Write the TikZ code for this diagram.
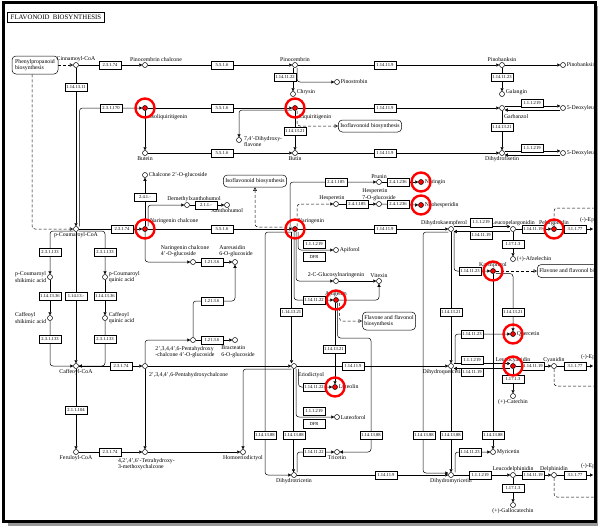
\documentclass[tikz,border=0pt]{standalone}
\usepackage{fontspec}
\setmainfont{Liberation Serif}
\usetikzlibrary{arrows.meta}
\pgfdeclarelayer{back}
\pgfdeclarelayer{bg}
\pgfsetlayers{back,bg,main}
\begin{document}
\begin{tikzpicture}[x=1pt,y=-1pt,
  cpd/.style={circle,draw,fill=white,inner sep=0pt,minimum size=5pt,line width=0.5pt},
  hit/.style={cpd,fill=red},
  enz/.style={draw,fill=white,inner sep=0pt,minimum width=22pt,minimum height=8.5pt,line width=0.5pt,font=\fontsize{4.6}{5}\selectfont},
  lbl/.style={font=\fontsize{5.8}{6.2}\selectfont,inner sep=0.8pt,align=center},
  lbll/.style={lbl,align=left},
  mapbox/.style={draw,fill=white,rounded corners=4pt,line width=0.5pt,font=\fontsize{5.8}{6.4}\selectfont,align=left,inner sep=2pt},
  ring/.style={circle,draw=red,line width=2.4pt,minimum size=19pt,inner sep=0pt},
  rxn/.style={line width=0.5pt,-{Triangle[length=3pt,width=3.2pt]}},
  rel/.style={line width=0.5pt,dash pattern=on 3pt off 2pt,-{Triangle[open,length=3.5pt,width=3.5pt]}},
  dsh/.style={line width=0.5pt,dash pattern=on 3pt off 2pt},
  rc/.style={rounded corners=3pt}]
\useasboundingbox (0,0) rectangle (600,528);
\begin{pgfonlayer}{back}
\fill[white] (0,0) rectangle (600,528);
\end{pgfonlayer}

% title
\node[draw,line width=1.2pt,fill=white,inner sep=3pt,font=\fontsize{6.8}{7}\selectfont] (title) at (56,17.5) {FLAVONOID\ \ BIOSYNTHESIS};

% map boxes
\node[mapbox,minimum width=46pt,minimum height=18pt] (ppb) at (35,65) {Phenylpropanoid\\biosynthesis};
\node[mapbox,minimum height=12pt] (iso1) at (370,126) {Isoflavonoid biosynthesis};
\node[mapbox,minimum height=12pt] (iso2) at (255,181) {Isoflavonoid biosynthesis};
\node[mapbox,minimum height=18pt] (ffb1) at (389,321) {Flavone and flavonol\\biosynthesis};
\node[mapbox,minimum height=13pt,anchor=west] (ffb2) at (537,271) {Flavone and flavonol biosynthesis};

% compounds
\node[cpd,label={[lbl]above:Cinnamoyl-CoA}] (cin) at (76,65) {};
\node[cpd,label={[lbl,xshift=11pt]above:Pinocembrin chalcone}] (pcc) at (145,65) {};
\node[cpd,label={[lbl]above:Pinocembrin}] (pino) at (295,65) {};
\node[cpd,label={[lbl]right:Pinostrobin}] (pinos) at (337,82) {};
\node[cpd,label={[lbl,yshift=2pt]right:Chrysin}] (chry) at (293,94) {};
\node[cpd,label={[lbl]above:Pinobanksin}] (pinob) at (502,65) {};
\node[cpd,label={[lbl]right:Pinobanksin 3-acetate}] (pinoa) at (563,65) {};
\node[cpd,label={[lbl,yshift=2pt]right:Galangin}] (gal) at (502,94) {};
\node[hit] (isol) at (145,108) {};
\node[lbl,anchor=west] (tisol) at (149,117) {Isoliquiritigenin};
\node[hit] (liq) at (295,108) {};
\node[lbl,anchor=west] (tliq) at (298,117) {Liquiritigenin};
\node[cpd] (garb) at (502,108) {};
\node[lbl,anchor=west] (tgarb) at (503,117) {Garbanzol};
\node[cpd,label={[lbl]right:5-Deoxyleucopelargonidin}] (dl1) at (563,108) {};
\node[cpd] (dhf74) at (239,140) {};
\node[lbll,anchor=north west] (tdhf74) at (243,135) {7,4'-Dihydroxy-\\flavone};
\node[cpd,label={[lbl]below:Butein}] (butein) at (145,153) {};
\node[cpd,label={[lbl]below:Butin}] (butin) at (295,153) {};
\node[cpd,label={[lbl]below:Dihydrofisetin}] (dhfis) at (502,153) {};
\node[cpd,label={[lbl]right:5-Deoxyleucofisetinidin}] (dl2) at (563,153) {};
\node[cpd,label={[lbl]right:Chalcone 2'-O-glucoside}] (c2g) at (145,175) {};
\node[cpd,label={[lbl,xshift=7pt]above:Demethylxanthohumol}] (dmx) at (187,205) {};
\node[cpd,label={[lbl]below:Xanthohumol}] (xan) at (227,205) {};
\node[hit] (ngc) at (145,229) {};
\node[lbl,anchor=west] (tngc) at (149,221) {Naringenin chalcone};
\node[cpd,label={[lbl]below:p-Coumaroyl-CoA}] (pcoa) at (76,229) {};
\node[cpd] (ngcg) at (193,262) {};
\node[lbll,anchor=south] (tngcg) at (185,258) {Naringenin chalcone\\4'-O-glucoside};
\node[cpd] (aur) at (235,262) {};
\node[lbll,anchor=south] (taur) at (236,258) {Aureusidin\\6-O-glucoside};
\node[cpd,label={[lbll]left:{p-Coumaroyl\\shikimic acid}}] (pcs) at (50,277) {};
\node[cpd,label={[lbll]right:{p-Coumaroyl\\quinic acid}}] (pcq) at (105,277) {};
\node[cpd,label={[lbll]left:{Caffeoyl\\shikimic acid}}] (cs) at (50,318) {};
\node[cpd,label={[lbll]right:{Caffeoyl\\quinic acid}}] (cq) at (105,318) {};
\node[cpd] (phg) at (193,340) {};
\node[lbll,anchor=north] (tphg) at (185,345) {2',3,4,4',6-Pentahydroxy\\-chalcone 4'-O-glucoside};
\node[cpd] (brac) at (235,340) {};
\node[lbll,anchor=north] (tbrac) at (238,345) {Bracteatin\\6-O-glucoside};
\node[cpd] (phc) at (145,366) {};
\node[lbl,anchor=west] (tphc) at (148,375) {2',3,4,4',6-Pentahydroxychalcone};
\node[cpd,label={[lbl]below:Caffeoyl-CoA}] (caf) at (76,366) {};
\node[cpd,label={[lbl]below:Feruloyl-CoA}] (fer) at (76,452) {};
\node[cpd] (thm) at (145,452) {};
\node[lbll,anchor=north west] (tthm) at (117,457) {4,2',4',6'-Tetrahydroxy-\\3-methoxychalcone};
\node[cpd,label={[lbl]below:Homoeriodictyol}] (hom) at (243,452) {};
\node[hit] (nar) at (295,229) {};
\node[lbl,anchor=west] (tnar) at (297,221) {Naringenin};
\node[cpd,label={[lbl]above:Prunin}] (prun) at (379,182) {};
\node[hit,label={[lbl]right:Naringin}] (narin) at (421,182) {};
\node[cpd,label={[lbl,xshift=-4pt]above:Hesperetin}] (hesp) at (336,204) {};
\node[cpd,label={[lbll]above:{Hesperetin\\7-O-glucoside}}] (h7g) at (379,204) {};
\node[hit,label={[lbl]right:Neohesperidin}] (neoh) at (421,205) {};
\node[cpd,label={[lbl]right:Apiforol}] (apif) at (336,250) {};
\node[cpd,label={[lbl]above:2-C-Glucosylnaringenin}] (cgn) at (336,281) {};
\node[cpd,label={[lbl]above:Vitexin}] (vit) at (379,281) {};
\node[hit,label={[lbl]above:Apigenin}] (apig) at (336,300) {};
\node[cpd] (erio) at (294,366) {};
\node[lbl,anchor=west] (terio) at (297,375) {Eriodictyol};
\node[hit,label={[lbl]right:Luteolin}] (lut) at (335,387) {};
\node[cpd,label={[lbl]right:Luteoforol}] (ltf) at (337,417) {};
\node[cpd,label={[lbl]below:Tricetin}] (tric) at (337,452) {};
\node[cpd,label={[lbl]below:Dihydrotricetin}] (dht) at (294,475) {};
\node[cpd,label={[lbl,xshift=-7pt]above:Dihydrokaempferol}] (dhk) at (451,229) {};
\node[cpd,label={[lbl]above:Leucopelargonidin}] (lpel) at (513,229) {};
\node[hit,label={[lbl]above:Pelargonidin}] (pel) at (554,229) {};
\node[cpd,label={[lbl]right:(+)-Afzelechin}] (afz) at (513,259) {};
\node[hit,label={[lbl]above:Kaempferol}] (kae) at (493,271) {};
\node[hit,label={[lbl]right:Quercetin}] (que) at (513,334) {};
\node[cpd,label={[lbl,xshift=-8pt]below:Dihydroquercetin}] (dhq) at (451,366) {};
\node[hit,label={[lbl]above:Leucocyanidin}] (lcy) at (513,366) {};
\node[cpd,label={[lbl]above:Cyanidin}] (cya) at (554,366) {};
\node[cpd,label={[lbl]below:(+)-Catechin}] (cat) at (513,396) {};
\node[cpd,label={[lbl]right:Myricetin}] (myr) at (493,452) {};
\node[cpd,label={[lbl]below:Dihydromyricetin}] (dhm) at (451,475) {};
\node[cpd,label={[lbl]above:Leucodelphinidin}] (ldel) at (513,475) {};
\node[cpd,label={[lbl]above:Delphinidin}] (del) at (554,475) {};
\node[cpd,label={[lbl]below:(+)-Gallocatechin}] (gcat) at (513,505) {};

\coordinate (eafz) at (593,229);
\node[lbl,anchor=west] (teafz) at (579,220) {(-)-Epiafzelechin};
\coordinate (ecat) at (593,366);
\node[lbl,anchor=west] (tecat) at (580,357) {(-)-Epicatechin};
\coordinate (egc) at (593,475);
\node[lbl,anchor=west] (tegc) at (580,466) {(-)-Epigallocatechin};
\coordinate (k1) at (371,338);
\coordinate (k2) at (265,475);
\coordinate (k3) at (600,208);
\coordinate (k4) at (423,473);
\coordinate (k5) at (600,386);
\coordinate (k6) at (600,497);

% enzymes
\node[enz] (ea1) at (110,65) {2.3.1.74};
\node[enz] (ea2) at (222,65) {5.5.1.6};
\node[enz] (ea3) at (385,65) {1.14.11.9};
\node[enz] (ea4) at (76,87) {1.14.13.11};
\node[enz] (ea5) at (285,77) {1.14.11.22};
\node[enz] (ea6) at (502,77) {1.14.11.23};
\node[enz] (eb1) at (111,108) {2.3.1.170};
\node[enz] (eb2) at (222,108) {5.5.1.6};
\node[enz] (eb3) at (385,108) {1.14.11.9};
\node[enz] (eb4) at (532,103) {1.1.1.219};
\node[enz] (eb5) at (295,131) {1.14.13.21};
\node[enz] (eb6) at (502,127) {1.14.13.21};
\node[enz] (ec1) at (222,153) {5.5.1.6};
\node[enz] (ec2) at (385,153) {1.14.11.9};
\node[enz] (ec3) at (532,148) {1.1.1.219};
\node[enz] (ed1) at (145,197) {2.4.1.-};
\node[enz] (ed2) at (206,205) {2.1.1.-};
\node[enz] (ed3) at (122,229) {2.3.1.74};
\node[enz] (ed4) at (222,229) {5.5.1.6};
\node[enz] (ed5) at (385,229) {1.14.11.9};
\node[enz] (e1213a) at (212,262) {1.21.3.6};
\node[enz] (e1213b) at (212,301) {1.21.3.6};
\node[enz] (e1213c) at (212,340) {1.21.3.6};
\node[enz] (ef1) at (50,252) {2.3.1.133};
\node[enz] (ef2) at (105,252) {2.3.1.133};
\node[enz] (ef3) at (50,296) {1.14.13.36};
\node[enz] (ef4) at (76,296) {1.14.13.-};
\node[enz] (ef5) at (105,296) {1.14.13.36};
\node[enz] (ef6) at (50,339) {2.3.1.133};
\node[enz] (ef7) at (105,339) {2.3.1.133};
\node[enz] (eg1) at (121,366) {2.3.1.74};
\node[enz] (eg2) at (76,410) {2.1.1.104};
\node[enz] (eg3) at (110,452) {2.3.1.74};
\node[enz] (eh1) at (336,182) {2.4.1.185};
\node[enz] (eh2) at (398,182) {2.4.1.236};
\node[enz] (eh3) at (357,204) {2.4.1.185};
\node[enz] (eh4) at (398,204) {2.4.1.236};
\node[enz] (ei1) at (314,244) {1.1.1.219};
\node[enz] (ei2) at (314,256.5) {DFR};
\node[enz] (ei3) at (314,300) {1.14.11.22};
\node[enz] (ei4) at (291.5,312) {1.14.13.21};
\node[enz] (ei5) at (334,349) {1.14.13.21};
\node[enz] (ei6) at (353,366) {1.14.11.9};
\node[enz] (ei7) at (314,387) {1.14.11.22};
\node[enz] (ei8) at (314,411) {1.1.1.219};
\node[enz] (ei9) at (314,423.5) {DFR};
\node[enz] (ei10) at (314,452) {1.14.11.22};
\node[enz] (ej1) at (265,435) {1.14.13.88};
\node[enz] (ej2) at (294,435) {1.14.13.88};
\node[enz] (ej3) at (371,435) {1.14.13.88};
\node[enz] (ej4) at (386,475) {1.14.11.9};
\node[enz] (ek1) at (481,222.5) {1.1.1.219};
\node[enz] (ek2) at (481,235) {1.14.11.19};
\node[enz] (ek3) at (533,229) {1.14.11.19};
\node[enz] (ek4) at (575,229) {3.1.1.77};
\node[enz] (ek5) at (513,244) {1.17.1.3};
\node[enz] (ek6) at (470,271) {1.14.11.23};
\node[enz] (ek7) at (451,312) {1.14.13.21};
\node[enz] (ek8) at (513,312) {1.14.13.21};
\node[enz] (ek9) at (472,334) {1.14.11.23};
\node[enz] (el1) at (472,360) {1.1.1.219};
\node[enz] (el2) at (472,372) {1.14.11.19};
\node[enz] (el3) at (533,366) {1.14.11.19};
\node[enz] (el4) at (575,366) {3.1.1.77};
\node[enz] (el5) at (513,379) {1.17.1.3};
\node[enz] (em1) at (424,435) {1.14.13.88};
\node[enz] (em2) at (451,435) {1.14.13.88};
\node[enz] (em3) at (493,435) {1.14.13.88};
\node[enz] (em4) at (470,452) {1.14.11.23};
\node[enz] (em5) at (480,475) {1.1.1.219};
\node[enz] (em6) at (533,475) {1.14.11.19};
\node[enz] (em7) at (575,475) {3.1.1.77};
\node[enz] (em8) at (513,488) {1.17.1.3};

\begin{pgfonlayer}{bg}
\draw[rel] (ppb) -- (cin);
\draw[rxn] (cin) -- (pcc);
\draw[rxn] (pcc) -- (pino);
\draw[rxn] (pino) -- (pinob);
\draw[rxn] (pinob) -- (pinoa);
\draw[rxn,rc] ([xshift=2pt]pino.south) |- (pinos);
\draw[rxn] ([xshift=-2pt]pino.south) -- (chry);
\draw[rxn] (pinob) -- (gal);
\draw[rxn] (cin) -- (pcoa);
\draw[rxn,rc] ([xshift=3.5pt]pcoa.north) |- (isol);
\draw[rxn] (isol) -- (liq);
\draw[rxn] (liq) -- (garb);
\draw[rxn] (isol) -- (butein);
\draw[rxn] (butein) -- (butin);
\draw[rxn] (butin) -- (dhfis);
\draw[rxn] (liq) -- (butin);
\draw[rxn,rc] ([yshift=-2pt]liq.west) -| (dhf74);
\draw[rel,rc] ([xshift=2pt]liq.south) |- (iso1);
\draw[rxn] (garb) -- (dhfis);
\draw[rxn] ([yshift=2pt]garb.east) -- ([yshift=2pt]dl1.west);
\draw[rxn] ([yshift=-2pt]dl1.west) -- ([yshift=-2pt]garb.east);
\draw[rxn] ([yshift=2pt]dhfis.east) -- ([yshift=2pt]dl2.west);
\draw[rxn] ([yshift=-2pt]dl2.west) -- ([yshift=-2pt]dhfis.east);
\draw[rel,rc] ([xshift=-3pt]ppb.south) |- (pcoa);
\draw[rxn] (pcoa) -- (ngc);
\draw[rxn] (ngc) -- (c2g);
\draw[rxn,rc] ([xshift=3pt]ngc.north) |- (dmx);
\draw[rxn] (dmx) -- (xan);
\draw[rxn] (ngc) -- (nar);
\draw[rxn,rc] (ngc.south) |- (ngcg);
\draw[rxn] (ngcg) -- (aur);
\draw[rxn,rc] (phg.north) |- (e1213b) -| (aur.south);
\draw[rxn] (phg) -- (brac);
\draw[rxn,rc] (phc.north) |- (phg);
\draw[rxn] (phc) -- (thm);
\draw[rxn] (caf) -- (phc);
\draw[rxn] (caf) -- (fer);
\draw[rxn] (fer) -- (thm);
\draw[rxn] (thm) -- (hom);
\draw[rxn] (phc) -- (erio);
\draw[rxn,rc] ([yshift=-3pt]erio.west) -| (hom);
\draw[rxn,rc] ([yshift=-2pt]pcoa.west) -| (pcs);
\draw[rxn,rc] ([yshift=-2pt]pcoa.east) -| (pcq);
\draw[rxn] (pcs) -- (cs);
\draw[rxn] (pcq) -- (cq);
\draw[rxn] (pcoa) -- (caf);
\draw[rxn,rc] (cs) |- (caf);
\draw[rxn,rc] (cq) |- (caf);
\draw[rxn] (nar) -- (dhk);
\draw[rxn,rc] ([xshift=-5pt]nar.north) |- (prun);
\draw[rxn] (prun) -- (narin);
\draw[rxn,dsh,rc] ([xshift=2pt]nar.north) |- (hesp);
\draw[rxn] (hesp) -- (h7g);
\draw[rxn] (h7g) -- (neoh);
\draw[rel,rc] ([yshift=2pt]nar.west) -| (iso2);
\draw[rxn,rc] ([xshift=3pt]nar.south) |- (apif);
\draw[rxn,rc] ([xshift=1pt]nar.south) |- (cgn);
\draw[rxn,rc] ([xshift=-1pt]nar.south) |- (apig);
\draw[rxn] ([xshift=-3.5pt]nar.south) -- ([xshift=-2.5pt]erio.north);
\draw[rxn,rc] ([yshift=-3pt]nar.west) -| (k2) -- (dht);
\draw[rxn] (cgn) -- (vit);
\draw[rxn,rc] (apig.east) -| (vit.south);
\draw[rel,rc] ([xshift=3.5pt]apig.south) |- (ffb1);
\draw[rxn] ([xshift=-1pt]apig.south) -- (lut);
\draw[rxn,rc] ([xshift=1.5pt]apig.south) |- (k1) |- (tric);
\draw[rxn] (erio) -- (dhq);
\draw[rxn,rc] ([xshift=4.5pt]erio.south) |- (lut);
\draw[rxn,rc] ([xshift=2pt]erio.south) |- (ltf);
\draw[rxn] ([xshift=-0.5pt]erio.south) -- ([xshift=-0.5pt]dht.north);
\draw[rxn,rc] ([xshift=3pt]dht.north) |- (tric);
\draw[rxn] (dht) -- (dhm);
\draw[rxn,rc] ([yshift=-3pt]dhk.west) -| (k4) -- ([yshift=2pt]dhm.west);
\draw[rxn] ([yshift=2.5pt]dhk.east) -- ([yshift=2.5pt]lpel.west);
\draw[rxn] ([yshift=-2.5pt]lpel.west) -- ([yshift=-2.5pt]dhk.east);
\draw[rxn] (lpel) -- (pel);
\draw[rxn] (pel) -- (eafz);
\draw[dsh,rc] (pel.north) |- (k3);
\draw[rxn] (lpel) -- (afz);
\draw[rxn] (dhk) -- (dhq);
\draw[rxn,rc] ([xshift=3pt]dhk.south) |- (kae);
\draw[rel] (kae) -- (ffb2);
\draw[rxn] (kae) -- (myr);
\draw[rxn,rc] ([yshift=-2.5pt]kae.east) -| (que);
\draw[rxn,rc] ([xshift=4pt]dhq.north) |- (que);
\draw[rxn] ([yshift=2.5pt]dhq.east) -- ([yshift=2.5pt]lcy.west);
\draw[rxn] ([yshift=-2.5pt]lcy.west) -- ([yshift=-2.5pt]dhq.east);
\draw[rxn] (lcy) -- (cya);
\draw[rxn] (cya) -- (ecat);
\draw[dsh,rc] (cya.south) |- (k5);
\draw[rxn] (lcy) -- (cat);
\draw[rxn] (dhq) -- (dhm);
\draw[rxn,rc] ([xshift=4pt]dhm.north) |- (myr);
\draw[rxn] (dhm) -- (ldel);
\draw[rxn] (ldel) -- (del);
\draw[rxn] (del) -- (egc);
\draw[dsh,rc] (del.south) |- (k6);
\draw[rxn] (ldel) -- (gcat);
\end{pgfonlayer}

% highlight rings
\node[ring] (r1) at (isol) {};
\node[ring] (r2) at (liq) {};
\node[ring] (r3) at (ngc) {};
\node[ring] (r4) at (nar) {};
\node[ring] (r5) at (apig) {};
\node[ring] (r6) at (lut) {};
\node[ring] (r7) at (narin) {};
\node[ring] (r8) at (neoh) {};
\node[ring] (r9) at (pel) {};
\node[ring] (r10) at (kae) {};
\node[ring] (r11) at (que) {};
\node[ring] (r12) at (lcy) {};

% mask outside frame, shadow, frame
\fill[white,even odd rule] (-1,-1) rectangle (601,529) (4.5,3.5) rectangle (593.5,519.5);
\fill[black!40] (8,522) rectangle (598,526);
\fill[black!40] (596.5,6) rectangle (598,526);
\draw[line width=3pt] (3,2) rectangle (595,521);
\end{tikzpicture}
\end{document}
